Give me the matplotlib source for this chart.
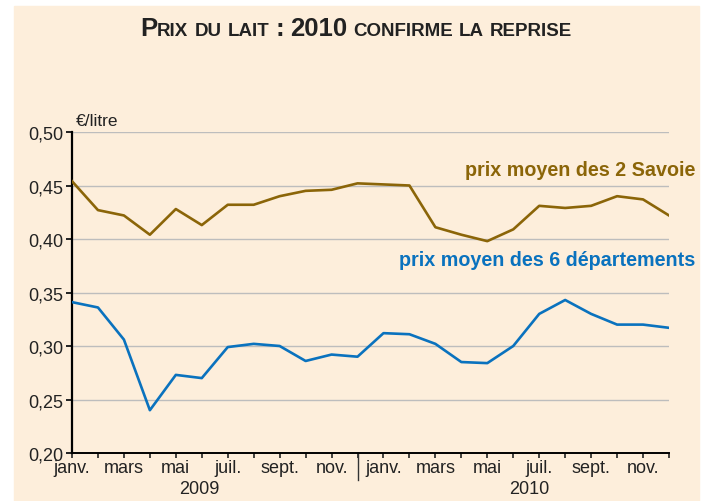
import numpy as np
import matplotlib
matplotlib.use("Agg")
import matplotlib.pyplot as plt
from matplotlib.ticker import FuncFormatter

# prix du lait, janv. 2009 -> déc. 2010 (€/litre)
savoie = [0.454, 0.427, 0.422, 0.404, 0.428, 0.413, 0.432, 0.432, 0.440, 0.445, 0.446, 0.452,
          0.451, 0.450, 0.411, 0.404, 0.398, 0.409, 0.431, 0.429, 0.431, 0.440, 0.437, 0.422]
six_dep = [0.341, 0.336, 0.306, 0.240, 0.273, 0.270, 0.299, 0.302, 0.300, 0.286, 0.292, 0.290,
           0.312, 0.311, 0.302, 0.285, 0.284, 0.300, 0.330, 0.343, 0.330, 0.320, 0.320, 0.317]
mois = ['janv.', '', 'mars', '', 'mai', '', 'juil.', '', 'sept.', '', 'nov.', '']
annees = ['2009', '2010']
yticks = [0.20, 0.25, 0.30, 0.35, 0.40, 0.45, 0.50]

bg = '#FDEEDB'
gold = '#8B6508'
blue = '#0A72BE'
W, H = 706, 502

plt.rcParams['font.family'] = ['Liberation Sans', 'DejaVu Sans']

fig = plt.figure(figsize=(W / 100, H / 100), dpi=100)
fig.patch.set_facecolor('white')
# panneau de fond
fig.patches.append(plt.Rectangle((14 / W, 0), (699 - 14) / W, (H - 7) / H,
                                 transform=fig.transFigure, color=bg, zorder=-5))

ax = fig.add_axes([72 / W, (H - 454) / H, (669 - 72) / W, (454 - 133) / H])
ax.patch.set_alpha(0)

x = np.arange(len(savoie))
ax.plot(x, savoie, color=gold, lw=1.9, zorder=3)
ax.plot(x, six_dep, color=blue, lw=1.9, zorder=3)

ax.set_xlim(0, 23)
ax.set_ylim(0.20, 0.50)
ax.set_yticks(yticks)
ax.yaxis.set_major_formatter(FuncFormatter(lambda v, p: f'{v:.2f}'.replace('.', ',')))
ax.set_xticks(x)
ax.set_xticklabels(mois * 2)
ax.grid(axis='y', color='#BDBDBD', lw=1)
ax.set_axisbelow(True)

for s in ['top', 'right']:
    ax.spines[s].set_visible(False)
ax.spines['left'].set_linewidth(1.6)
ax.spines['bottom'].set_linewidth(1.4)
ax.tick_params(axis='y', length=4, width=1.4, pad=2, labelsize=13, colors='#222222')
ax.tick_params(axis='x', length=3.5, width=1.2, pad=1, labelsize=13, colors='#222222')

# séparateur entre les deux années
ax.plot([11, 11], [0, -0.085], color='#333333', lw=1, transform=ax.get_xaxis_transform(),
        clip_on=False)
ax.text(4.9, -0.11, annees[0], transform=ax.get_xaxis_transform(), ha='center', va='center',
        fontsize=13, color='#222222')
ax.text(17.6, -0.11, annees[1], transform=ax.get_xaxis_transform(), ha='center', va='center',
        fontsize=13, color='#222222')

fig.text(76 / W, (H - 121) / H, '€/litre', fontsize=12.5,
         va='center', ha='left', color='#222222')
fig.text(695 / W, (H - 171) / H, 'prix moyen des 2 Savoie', color=gold, fontsize=14.2,
         fontweight='bold', ha='right', va='center')
fig.text(695 / W, (H - 261) / H, 'prix moyen des 6 départements', color=blue, fontsize=14.2,
         fontweight='bold', ha='right', va='center')

# titre en petites capitales
parts = [('P', 18.5, 0), ('RIX', 13.5, 1), ('DU', 13.5, 1), ('LAIT', 13.5, 1),
         (':', 18.5, 1), ('2010', 18.5, 1), ('CONFIRME', 13.5, 1), ('LA', 13.5, 1),
         ('REPRISE', 13.5, 0)]
r = fig.canvas.get_renderer()
texts = []
widths = []
for s, size, sp in parts:
    t = fig.text(0, (H - 36) / H, s, fontsize=size, fontweight='bold', color='#222222',
                 va='baseline', ha='left')
    texts.append(t)
    widths.append(t.get_window_extent(r).width)
gap = 6
total = sum(widths) + gap * sum(p[2] for p in parts)
xpos = 356 - total / 2
for t, w, p in zip(texts, widths, parts):
    t.set_x(xpos / W)
    xpos += w + gap * p[2]

fig.savefig('out.png', dpi=100, facecolor=fig.get_facecolor())
